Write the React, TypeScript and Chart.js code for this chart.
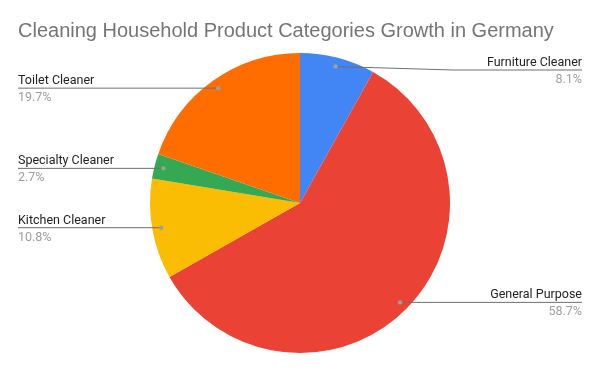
import React, { useEffect, useRef } from "react";
import { Chart, registerables } from "chart.js";

Chart.register(...registerables);

const titleText = "Cleaning Household Product Categories Growth in Germany";
const categories = ["Furniture Cleaner", "General Purpose", "Kitchen Cleaner", "Specialty Cleaner", "Toilet Cleaner"];
const values = [8.1, 58.7, 10.8, 2.7, 19.7];
const colors = ["#4285F4", "#EA4335", "#FBBC04", "#34A853", "#FF6D01"];

const FONT = "Roboto, Arial, sans-serif";

const labelPlugin = {
  id: "leaderLabels",
  afterDraw(chart: any) {
    const ctx = chart.ctx as CanvasRenderingContext2D;
    const meta = chart.getDatasetMeta(0);
    const total = values.reduce((a, b) => a + b, 0);
    ctx.save();
    // title
    ctx.fillStyle = "#757575";
    ctx.font = `20px "Liberation Sans", Arial, sans-serif`;
    ctx.textAlign = "left";
    ctx.textBaseline = "alphabetic";
    ctx.fillText(titleText, 18, 37);

    meta.data.forEach((arc: any, i: number) => {
      const p = arc.getProps(["x", "y", "startAngle", "endAngle", "outerRadius"], true);
      const mid = (p.startAngle + p.endAngle) / 2;
      const r = p.outerRadius * 0.94;
      const dx = p.x + Math.cos(mid) * r;
      const dy = p.y + Math.sin(mid) * r;
      const right = Math.cos(mid) >= 0;
      const lineY = Math.max(dy, 70);
      const endX = right ? chart.width - 18 : 18;
      const elbowX = right ? Math.min(dx + 118, endX) : dx;

      ctx.strokeStyle = "#6f6f6f";
      ctx.lineWidth = 1;
      ctx.beginPath();
      ctx.moveTo(dx, dy);
      ctx.lineTo(elbowX, lineY);
      ctx.lineTo(endX, lineY);
      ctx.stroke();

      ctx.fillStyle = "#9e9e9e";
      ctx.beginPath();
      ctx.arc(dx, dy, 2.2, 0, Math.PI * 2);
      ctx.fill();

      ctx.textAlign = right ? "right" : "left";
      ctx.fillStyle = "#222222";
      ctx.font = `12.5px ${FONT}`;
      ctx.fillText(categories[i], endX, lineY - 4);
      ctx.fillStyle = "#9e9e9e";
      const pct = ((values[i] / total) * 100).toFixed(1) + "%";
      ctx.fillText(pct, endX, lineY + 13);
    });
    ctx.restore();
  },
};

export default function App() {
  const ref = useRef<HTMLCanvasElement>(null);
  useEffect(() => {
    const chart = new Chart(ref.current!, {
      type: "pie",
      data: {
        labels: categories,
        datasets: [
          {
            data: values,
            backgroundColor: colors,
            borderWidth: 0,
          },
        ],
      },
      options: {
        responsive: false,
        animation: false,
        layout: { padding: { top: 53, bottom: 18, left: 0, right: 0 } },
        plugins: {
          legend: { display: false },
          tooltip: { enabled: false },
          title: { display: false },
        },
      },
      plugins: [labelPlugin],
    });
    return () => chart.destroy();
  }, []);
  return (
    <div style={{ position: "absolute", left: 0, top: 0, width: 600, height: 371, background: "#fff" }}>
      <canvas ref={ref} width={600} height={371} style={{ width: 600, height: 371, display: "block" }} />
    </div>
  );
}
